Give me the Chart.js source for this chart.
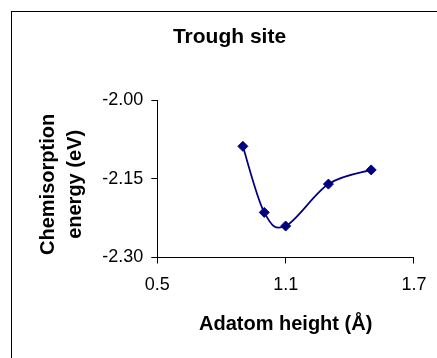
<!DOCTYPE html>
<html>
<head>
<meta charset="utf-8">
<script src="https://cdn.jsdelivr.net/npm/chart.js@4/dist/chart.umd.min.js"></script>
<style>
  html, body { margin: 0; padding: 0; background: #fff; }
  #wrap { width: 437px; height: 358px; position: relative; }
</style>
</head>
<body>
<div id="wrap"><canvas id="c" width="437" height="358"></canvas></div>
<script>
// Adatom heights (Å) and chemisorption energies (eV) at the trough site
const heights = [0.9, 1.0, 1.1, 1.3, 1.5];
const energies = [-2.088, -2.214, -2.240, -2.160, -2.133];
const xTicks = [0.5, 1.1, 1.7];
const yTicks = [-2.30, -2.15, -2.00];

const FONT = '"Liberation Sans", Arial, Helvetica, sans-serif';

// Frame around the chart (open at right and bottom edges of the canvas)
const framePlugin = {
  id: 'frame',
  beforeDraw(chart) {
    const ctx = chart.ctx;
    ctx.save();
    ctx.fillStyle = '#fff';
    ctx.fillRect(0, 0, chart.width, chart.height);
    ctx.strokeStyle = '#000';
    ctx.lineWidth = 1;
    ctx.strokeRect(11.5, 11.5, chart.width + 20, chart.height + 20);
    ctx.restore();
  }
};

// Uniform Catmull-Rom smoothing: control points from the neighbouring
// point elements (already placed by the scales), tangent = (next - prev) / 6
const smoothPlugin = {
  id: 'catmullRom',
  beforeDatasetDraw(chart, args) {
    const meta = args.meta;
    const pts = meta.data;
    const n = pts.length;
    for (let i = 0; i < n; i++) {
      const prev = pts[Math.max(i - 1, 0)];
      const next = pts[Math.min(i + 1, n - 1)];
      const tx = (next.x - prev.x) / 6;
      const ty = (next.y - prev.y) / 6;
      pts[i].cp1x = pts[i].x - tx;
      pts[i].cp1y = pts[i].y - ty;
      pts[i].cp2x = pts[i].x + tx;
      pts[i].cp2y = pts[i].y + ty;
    }
    meta.dataset._pointsUpdated = true;
  }
};

new Chart(document.getElementById('c'), {
  type: 'scatter',
  data: {
    datasets: [{
      data: heights.map((h, i) => ({ x: h, y: energies[i] })),
      showLine: true,
      tension: 0.3,
      borderColor: '#000080',
      borderWidth: 1.75,
      backgroundColor: '#000080',
      pointStyle: 'rectRot',
      pointRadius: 5,
      pointBorderWidth: 1,
      pointBorderColor: '#000080',
      pointBackgroundColor: '#000080'
    }]
  },
  options: {
    responsive: false,
    animation: false,
    devicePixelRatio: 1,
    layout: { padding: { left: 44, right: 22, top: 0, bottom: 15 } },
    plugins: {
      legend: { display: false },
      tooltip: { enabled: false },
      title: {
        display: true,
        text: 'Trough site',
        color: '#000',
        font: { family: FONT, size: 21, weight: 'bold', lineHeight: 1.2 },
        padding: { top: 25, bottom: 50 }
      }
    },
    scales: {
      x: {
        type: 'linear',
        min: xTicks[0],
        max: xTicks[xTicks.length - 1],
        afterBuildTicks(scale) { scale.ticks = xTicks.map(v => ({ value: v })); },
        afterFit(scale) { scale.height = 85.5; },
        grid: { drawOnChartArea: false, drawTicks: true, tickLength: 6, color: '#000', tickColor: '#000' },
        border: { display: true, color: '#000', width: 1 },
        ticks: {
          color: '#000',
          padding: 10.5,
          maxRotation: 0,
          font: { family: FONT, size: 18, lineHeight: 1.2 },
          callback: v => v.toFixed(1)
        },
        title: {
          display: true,
          text: 'Adatom height (Å)',
          color: '#000',
          font: { family: FONT, size: 20, weight: 'bold', lineHeight: 1.2 },
          padding: { top: 0, bottom: 7 }
        }
      },
      y: {
        type: 'linear',
        min: yTicks[0],
        max: yTicks[yTicks.length - 1],
        afterBuildTicks(scale) { scale.ticks = yTicks.map(v => ({ value: v })); },
        afterFit(scale) { scale.width = 113.3; },
        grid: { drawOnChartArea: false, drawTicks: true, tickLength: 6, color: '#000', tickColor: '#000' },
        border: { display: true, color: '#000', width: 1 },
        ticks: {
          color: '#000',
          padding: 8,
          font: { family: FONT, size: 18, lineHeight: 1.2 },
          callback: v => v.toFixed(2)
        },
        title: {
          display: true,
          text: ['Chemisorption  ', 'energy (eV)  '],
          color: '#000',
          font: { family: FONT, size: 20, weight: 'bold', lineHeight: 1.35 },
          padding: { top: -9, bottom: 0 }
        }
      }
    }
  },
  plugins: [framePlugin, smoothPlugin]
});
</script>
</body>
</html>
